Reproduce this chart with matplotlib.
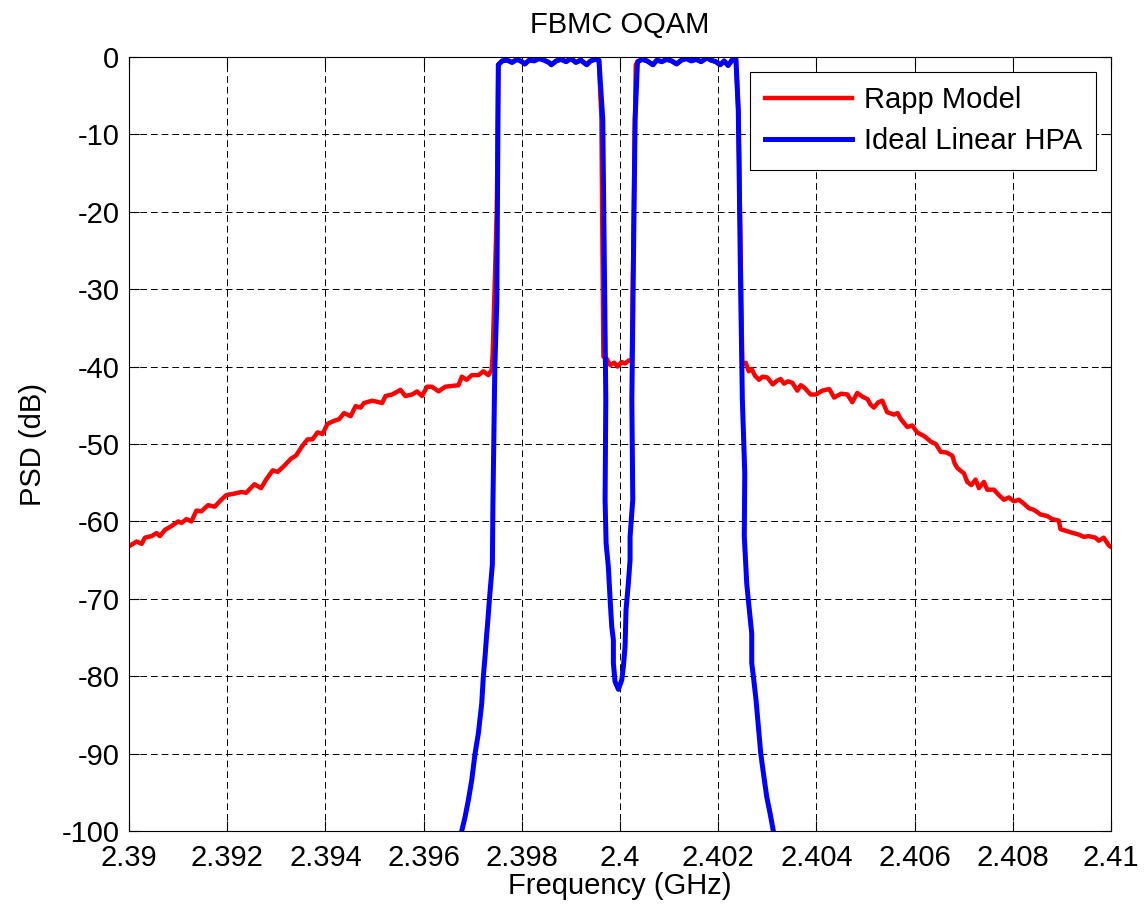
import numpy as np
import matplotlib.pyplot as plt

plt.rcParams['font.family'] = ['Liberation Sans', 'DejaVu Sans']
plt.rcParams['axes.unicode_minus'] = False

# --- passband levels (identical for both curves) ---
pass1_f = [2.39760, 2.39770, 2.39780, 2.39790, 2.39800, 2.39806, 2.39815, 2.39825,
           2.39835, 2.39845, 2.39855, 2.39860, 2.39870, 2.39880, 2.39890, 2.39900,
           2.39910, 2.39920, 2.39932, 2.39940, 2.39950, 2.39957]
pass1_db = [-0.5, -0.4, -0.7, -0.3, -0.6, -0.9, -0.4, -0.5, -0.2, -0.4, -0.7, -1.0,
            -0.5, -0.3, -0.6, -0.2, -0.7, -0.4, -1.0, -0.5, -0.3, -0.4]
pass2_f = [2.40036, 2.40045, 2.40055, 2.40067, 2.40075, 2.40085, 2.40095, 2.40105,
           2.40115, 2.40125, 2.40135, 2.40145, 2.40155, 2.40165, 2.40177, 2.40185,
           2.40195, 2.40204, 2.40212, 2.40220, 2.40228, 2.40236]
pass2_db = [-0.6, -0.3, -0.5, -1.0, -0.4, -0.6, -0.3, -0.5, -0.9, -0.4, -0.2, -0.5,
            -0.3, -0.6, -0.1, -0.4, -0.6, -1.0, -0.5, -1.1, -0.4, -0.3]

# --- Rapp model (red) ---
red_left_f = [2.390000, 2.390155, 2.390257, 2.390324, 2.390459, 2.390561, 2.390628,
              2.390730, 2.390865, 2.391000, 2.391068, 2.391169, 2.391270, 2.391372,
              2.391473, 2.391608, 2.391743, 2.391878, 2.391980, 2.392149, 2.392284,
              2.392385, 2.392554, 2.392689, 2.392791, 2.392926, 2.393027, 2.393162,
              2.393297, 2.393399, 2.393534, 2.393635, 2.393736, 2.393838, 2.393939,
              2.394041, 2.394176, 2.394277, 2.394378, 2.394514, 2.394615, 2.394716,
              2.394784, 2.394953, 2.395155, 2.395223, 2.395358, 2.395527, 2.395628,
              2.395764, 2.395865, 2.395966, 2.396068, 2.396169, 2.396304, 2.396439,
              2.396709, 2.396777, 2.396878, 2.396980, 2.397115, 2.397216, 2.397318,
              2.397385, 2.397405, 2.397490, 2.397521]
red_left_db = [-63.2, -62.6, -62.9, -62.1, -61.9, -61.5, -61.9, -61.1, -60.6, -60.0,
               -60.2, -59.7, -60.0, -58.6, -58.7, -57.9, -58.1, -57.2, -56.6, -56.4,
               -56.2, -56.3, -55.2, -55.7, -54.6, -53.4, -53.6, -52.8, -51.9, -51.5,
               -50.2, -49.4, -49.4, -48.5, -48.7, -47.4, -47.0, -46.8, -46.0, -46.4,
               -45.1, -45.3, -44.7, -44.4, -44.7, -43.8, -43.6, -43.0, -43.8, -43.6,
               -43.2, -43.8, -42.6, -42.6, -43.2, -42.6, -42.4, -41.3, -41.7, -41.1,
               -41.1, -40.6, -41.1, -40.4, -38.5, -20.0, -1.0]
red_mid_f = [2.39962, 2.39966, 2.39973, 2.39980, 2.39988, 2.39995, 2.40003, 2.40010,
             2.40018, 2.40024, 2.40028, 2.40032]
red_mid_db = [-8.0, -38.7, -39.0, -39.8, -39.5, -40.0, -39.4, -39.6, -39.2, -39.3,
              -20.0, -1.0]
red_right_f = [2.40241, 2.40249, 2.40256, 2.40262, 2.40268, 2.40275, 2.40283, 2.40290,
               2.40300, 2.40311, 2.40320, 2.40327, 2.40334, 2.40342, 2.40351, 2.40361,
               2.40368, 2.40375, 2.40388, 2.40399, 2.40412, 2.40426, 2.40436, 2.40450,
               2.40463, 2.40473, 2.40483, 2.40494, 2.40504, 2.40510, 2.40517, 2.40526,
               2.40534, 2.40544, 2.40558, 2.40565, 2.40572, 2.40585, 2.40595, 2.40605,
               2.40620, 2.40633, 2.40643, 2.40653, 2.40665, 2.406766, 2.406814,
               2.406868, 2.407004, 2.407071, 2.407153, 2.407241, 2.407309, 2.407410,
               2.407478, 2.407614, 2.407716, 2.407817, 2.407919, 2.408021, 2.408122,
               2.408224, 2.408326, 2.408427, 2.408563, 2.408699, 2.408800, 2.408936,
               2.408970, 2.409071, 2.409173, 2.409343, 2.409444, 2.409546, 2.409682,
               2.409750, 2.409851, 2.409953, 2.410000]
red_right_db = [-7.0, -39.7, -39.5, -40.6, -40.3, -41.2, -41.7, -41.3, -41.4, -42.3,
                -41.8, -41.6, -42.2, -41.9, -42.1, -43.1, -42.4, -42.7, -43.6, -43.6,
                -43.1, -42.9, -44.0, -43.5, -43.6, -44.6, -43.4, -43.9, -44.2, -44.9,
                -45.3, -44.6, -44.4, -45.9, -46.2, -46.0, -46.8, -47.8, -47.6, -48.5,
                -49.0, -49.7, -50.0, -51.0, -51.1, -51.5, -52.5, -53.1, -53.8, -54.9,
                -55.3, -54.6, -55.7, -54.9, -55.9, -55.9, -56.6, -57.2, -56.9, -57.4,
                -57.2, -57.7, -58.3, -58.5, -59.1, -59.3, -59.7, -59.9, -61.0, -61.2,
                -61.4, -61.7, -62.0, -61.9, -62.1, -62.5, -62.1, -63.1, -63.3]

# --- ideal linear HPA (blue) ---
blue_left_f = [2.396776, 2.396843, 2.396911, 2.396980, 2.397047, 2.397114, 2.397183,
               2.397216, 2.397250, 2.397285, 2.397310, 2.397338, 2.397400, 2.397410,
               2.397450, 2.397490, 2.397521]
blue_left_db = [-100.0, -98.2, -96.0, -93.4, -90.0, -87.4, -83.5, -80.0, -77.5,
                -74.5, -72.6, -70.2, -65.5, -58.2, -40.0, -31.6, -1.0]
blue_notch_f = [2.399648, 2.399710, 2.399695, 2.399716, 2.399762, 2.399794, 2.399831,
                2.399864, 2.399864, 2.399898, 2.399966, 2.400034, 2.400067, 2.400102,
                2.400122, 2.400169, 2.400204, 2.400204, 2.400238, 2.400259, 2.400240,
                2.400306, 2.400352]
blue_notch_db = [-8.1, -44.3, -57.2, -62.8, -65.9, -69.7, -73.6, -75.3, -78.3, -80.7,
                 -81.7, -80.5, -78.8, -76.2, -71.4, -68.0, -65.0, -62.0, -59.0, -57.2,
                 -44.3, -8.1, -1.0]
blue_right_f = [2.402409, 2.402460, 2.402491, 2.402540, 2.402530, 2.402580, 2.402613,
                2.402650, 2.402682, 2.402682, 2.402715, 2.402770, 2.402817, 2.402866,
                2.402919, 2.402988, 2.403055, 2.403122]
blue_right_db = [-7.0, -31.7, -44.3, -53.8, -61.9, -68.0, -70.2, -72.5, -74.5, -78.3,
                 -80.0, -83.1, -86.5, -90.0, -92.5, -95.6, -97.7, -100.0]

x_ticks = np.arange(2.39, 2.4101, 0.002)
x_labels = ['2.39', '2.392', '2.394', '2.396', '2.398', '2.4',
            '2.402', '2.404', '2.406', '2.408', '2.41']
y_ticks = np.arange(-100, 1, 10)

red_f = np.concatenate([red_left_f, pass1_f, red_mid_f, pass2_f, red_right_f])
red_db = np.concatenate([red_left_db, pass1_db, red_mid_db, pass2_db, red_right_db])
blue_f = np.concatenate([blue_left_f, pass1_f, blue_notch_f, pass2_f, blue_right_f])
blue_db = np.concatenate([blue_left_db, pass1_db, blue_notch_db, pass2_db, blue_right_db])

fs = 21

fig = plt.figure(figsize=(11.44, 9.14), dpi=100)
ax = fig.add_axes([0.1128, 0.0908, 0.9712 - 0.1128, 0.9376 - 0.0908])

ax.plot(red_f, red_db, color='red', linewidth=3.2, label='Rapp Model')
ax.plot(blue_f, blue_db, color='blue', linewidth=3.6, label='Ideal Linear HPA')

ax.set_xlim(2.39, 2.41)
ax.set_ylim(-100, 0)
ax.set_xticks(x_ticks)
ax.set_xticklabels(x_labels)
ax.set_yticks(y_ticks)
ax.tick_params(direction='in', length=7, width=0.8, top=True, right=True,
               labelsize=fs, colors='black')
ax.tick_params(axis='x', pad=9)
ax.tick_params(axis='y', pad=7)
ax.grid(True, color='black', linestyle=(0, (7, 4)), linewidth=0.7)
for sp in ax.spines.values():
    sp.set_linewidth(0.8)

ax.set_title('FBMC OQAM', fontsize=fs, pad=17)
ax.set_xlabel('Frequency (GHz)', fontsize=fs, labelpad=0)
ax.set_ylabel('PSD (dB)', fontsize=fs, labelpad=10)

leg = ax.legend(loc='upper right', fontsize=fs, fancybox=False, framealpha=1,
                edgecolor='black', handlelength=3.0, handletextpad=0.4,
                borderpad=0.5, labelspacing=0.45, borderaxespad=0.5)
leg.get_frame().set_linewidth(0.8)

fig.savefig('out.png', dpi=100)
